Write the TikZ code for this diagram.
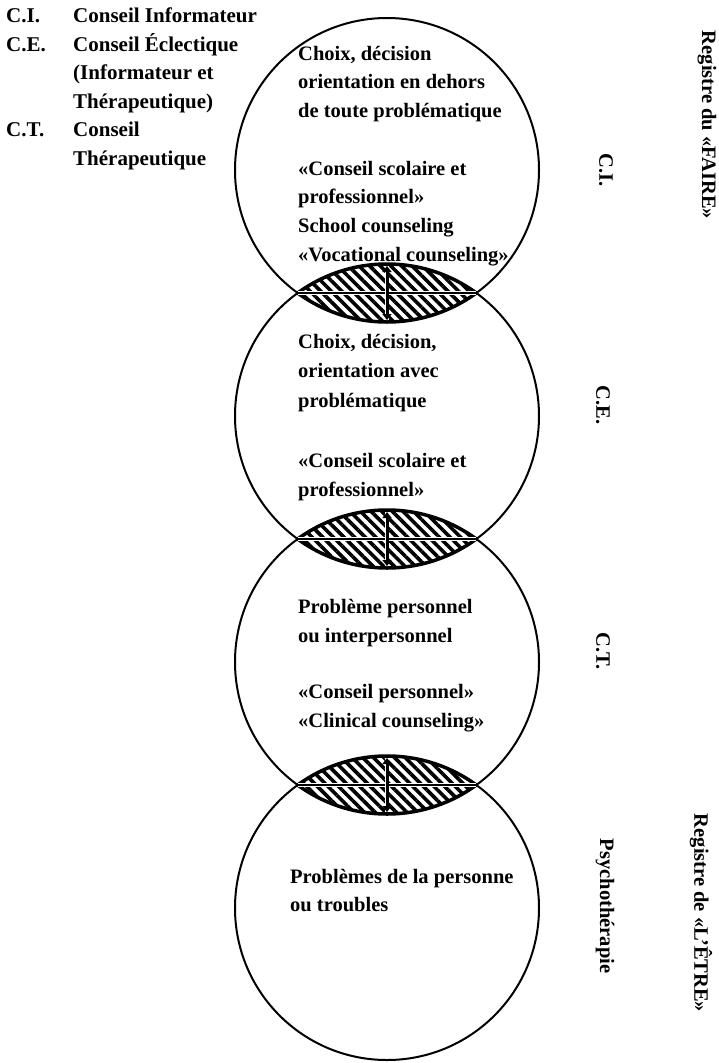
\documentclass[tikz,border=0pt]{standalone}
\usepackage{fontspec}
\setmainfont{Liberation Serif}
\usetikzlibrary{patterns.meta,arrows.meta}
\begin{document}
\begin{tikzpicture}[x=1pt,y=-1pt,
  txt/.style={anchor=base west,inner sep=0pt,font=\fontsize{20.5}{29}\selectfont\bfseries},
  leg/.style={txt,font=\fontsize{21}{29}\selectfont\bfseries},
  rot/.style={rotate=-90,inner sep=0pt,anchor=center,font=\fontsize{20.5}{29}\selectfont\bfseries},
  ring/.style={circle,draw,line width=2pt,minimum size=304pt,inner sep=0pt},
  hatch/.style={pattern={Lines[angle=-45,distance=7.5pt,line width=3.6pt]}},
  lensrim/.style={line width=3.5pt},
  tip/.style={line width=3pt,{Triangle[width=9pt,length=6pt]}-{Triangle[width=9pt,length=6pt]}}]
\useasboundingbox[fill=white] (0,0) rectangle (718,1063);

% circles
\node[ring] (c1) at (387,170) {};
\node[ring] (c2) at (387,416) {};
\node[ring] (c3) at (387,662) {};
\node[ring] (c4) at (387,908) {};

% lenses
\foreach \ya/\yb/\n in {170/416/1,416/662/2,662/908/3}{
  \pgfmathsetmacro{\ym}{(\ya+\yb)/2}
  \coordinate (l\n w) at ({387-89.3},\ym);
  \coordinate (l\n e) at ({387+89.3},\ym);
  \coordinate (l\n t) at (387,{\yb-152+2});
  \coordinate (l\n b) at (387,{\ya+152-2});
  \begin{scope}
    \clip (387,\ya) circle (152);
    \fill[hatch] (387,\yb) circle (152);
    \draw[lensrim] (387,\yb) circle (152);
  \end{scope}
  \begin{scope}
    \clip (387,\yb) circle (152);
    \draw[lensrim] (387,\ya) circle (152);
  \end{scope}
  \draw[white,line width=4.5pt] (l\n w) -- (l\n e);
  \draw[line width=1.8pt] (l\n w) -- (l\n e);
  \draw[white,line width=4pt] (l\n t) -- (l\n b);
  \draw[tip] (l\n t) -- (l\n b);
}

% legend
\node[leg] (k1) at (6,22) {C.I.};
\node[leg] (v1) at (73,22) {Conseil Informateur};
\node[leg] (k2) at (6,51) {C.E.};
\node[leg] (v2) at (73,51) {Conseil Éclectique};
\node[leg] (v2b) at (73,79) {(Informateur et};
\node[leg] (v2c) at (73,108) {Thérapeutique)};
\node[leg] (k3) at (6,136) {C.T.};
\node[leg] (v3) at (73,136) {Conseil};
\node[leg] (v3b) at (73,165) {Thérapeutique};

% circle 1 text
\foreach \t [count=\i] in {{Choix, décision},{orientation en dehors},{de toute problématique}}
  \node[txt] (a\i) at (298,{60+28.7*(\i-1)}) {\t};
\foreach \t [count=\i] in {{«Conseil scolaire et},{professionnel»},{School counseling},{«Vocational counseling»}}
  \node[txt] (b\i) at (298,{175+28.7*(\i-1)}) {\t};

% circle 2 text
\foreach \t [count=\i] in {{Choix, décision,},{orientation avec},{problématique}}
  \node[txt] (c\i) at (298,{348+29.5*(\i-1)}) {\t};
\foreach \t [count=\i] in {{«Conseil scolaire et},{professionnel»}}
  \node[txt] (d\i) at (298,{467+29.5*(\i-1)}) {\t};

% circle 3 text
\foreach \t [count=\i] in {{Problème personnel},{ou interpersonnel}}
  \node[txt] (e\i) at (298,{613+29*(\i-1)}) {\t};
\foreach \t [count=\i] in {{«Conseil personnel»},{«Clinical counseling»}}
  \node[txt] (f\i) at (298,{698+29*(\i-1)}) {\t};

% circle 4 text
\node[txt] (g1) at (290,883) {Problèmes de la personne};
\node[txt] (g2) at (290,911) {ou troubles};

% right side labels
\node[rot] (r1) at (606,170) {C.I.};
\node[rot] (r2) at (603,405) {C.E.};
\node[rot] (r3) at (603,651) {C.T.};
\node[rot] (r4) at (605,906) {Psychothérapie};
\node[rot] (r5) at (707,125) {Registre du «FAIRE»};
\node[rot] (r6) at (701,913) {Registre de «L’ÊTRE»};
\end{tikzpicture}
\end{document}
